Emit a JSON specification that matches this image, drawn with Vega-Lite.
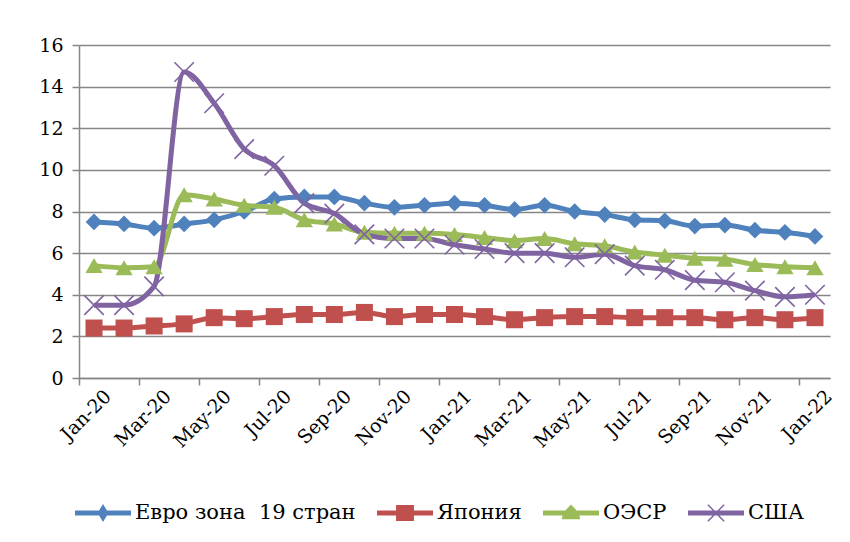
{
  "$schema": "https://vega.github.io/schema/vega-lite/v6.json",
  "width": 751,
  "height": 333,
  "autosize": {"type": "none"},
  "padding": {"left": 79, "top": 45, "right": 20, "bottom": 164},
  "background": "white",
  "config": {
    "view": {"stroke": null},
    "font": "DejaVu Serif",
    "axis": {
      "labelFont": "DejaVu Serif",
      "labelFontSize": 19,
      "labelColor": "black",
      "domainColor": "#868686",
      "domainWidth": 1.5,
      "tickColor": "#868686",
      "tickWidth": 1.5,
      "tickSize": 7,
      "gridColor": "#868686",
      "gridWidth": 1.5,
      "title": null
    },
    "legend": {"labelFont": "DejaVu Serif"}
  },
  "data": {
    "values": [
      {"m":"Jan-20","s":"Евро зона\u00a0 19 стран","v":7.5},{"m":"Feb-20","s":"Евро зона\u00a0 19 стран","v":7.4},{"m":"Mar-20","s":"Евро зона\u00a0 19 стран","v":7.2},{"m":"Apr-20","s":"Евро зона\u00a0 19 стран","v":7.4},{"m":"May-20","s":"Евро зона\u00a0 19 стран","v":7.6},{"m":"Jun-20","s":"Евро зона\u00a0 19 стран","v":8.0},{"m":"Jul-20","s":"Евро зона\u00a0 19 стран","v":8.6},{"m":"Aug-20","s":"Евро зона\u00a0 19 стран","v":8.7},{"m":"Sep-20","s":"Евро зона\u00a0 19 стран","v":8.7},{"m":"Oct-20","s":"Евро зона\u00a0 19 стран","v":8.4},{"m":"Nov-20","s":"Евро зона\u00a0 19 стран","v":8.2},{"m":"Dec-20","s":"Евро зона\u00a0 19 стран","v":8.3},{"m":"Jan-21","s":"Евро зона\u00a0 19 стран","v":8.4},{"m":"Feb-21","s":"Евро зона\u00a0 19 стран","v":8.3},{"m":"Mar-21","s":"Евро зона\u00a0 19 стран","v":8.1},{"m":"Apr-21","s":"Евро зона\u00a0 19 стран","v":8.3},{"m":"May-21","s":"Евро зона\u00a0 19 стран","v":8.0},{"m":"Jun-21","s":"Евро зона\u00a0 19 стран","v":7.85},{"m":"Jul-21","s":"Евро зона\u00a0 19 стран","v":7.6},{"m":"Aug-21","s":"Евро зона\u00a0 19 стран","v":7.55},{"m":"Sep-21","s":"Евро зона\u00a0 19 стран","v":7.3},{"m":"Oct-21","s":"Евро зона\u00a0 19 стран","v":7.35},{"m":"Nov-21","s":"Евро зона\u00a0 19 стран","v":7.1},{"m":"Dec-21","s":"Евро зона\u00a0 19 стран","v":7.0},{"m":"Jan-22","s":"Евро зона\u00a0 19 стран","v":6.8},
      {"m":"Jan-20","s":"Япония","v":2.4},{"m":"Feb-20","s":"Япония","v":2.4},{"m":"Mar-20","s":"Япония","v":2.5},{"m":"Apr-20","s":"Япония","v":2.6},{"m":"May-20","s":"Япония","v":2.9},{"m":"Jun-20","s":"Япония","v":2.85},{"m":"Jul-20","s":"Япония","v":2.95},{"m":"Aug-20","s":"Япония","v":3.05},{"m":"Sep-20","s":"Япония","v":3.05},{"m":"Oct-20","s":"Япония","v":3.15},{"m":"Nov-20","s":"Япония","v":2.95},{"m":"Dec-20","s":"Япония","v":3.05},{"m":"Jan-21","s":"Япония","v":3.05},{"m":"Feb-21","s":"Япония","v":2.95},{"m":"Mar-21","s":"Япония","v":2.8},{"m":"Apr-21","s":"Япония","v":2.9},{"m":"May-21","s":"Япония","v":2.95},{"m":"Jun-21","s":"Япония","v":2.95},{"m":"Jul-21","s":"Япония","v":2.9},{"m":"Aug-21","s":"Япония","v":2.9},{"m":"Sep-21","s":"Япония","v":2.9},{"m":"Oct-21","s":"Япония","v":2.8},{"m":"Nov-21","s":"Япония","v":2.9},{"m":"Dec-21","s":"Япония","v":2.8},{"m":"Jan-22","s":"Япония","v":2.9},
      {"m":"Jan-20","s":"ОЭСР","v":5.4},{"m":"Feb-20","s":"ОЭСР","v":5.3},{"m":"Mar-20","s":"ОЭСР","v":5.35},{"m":"Apr-20","s":"ОЭСР","v":8.8},{"m":"May-20","s":"ОЭСР","v":8.6},{"m":"Jun-20","s":"ОЭСР","v":8.3},{"m":"Jul-20","s":"ОЭСР","v":8.2},{"m":"Aug-20","s":"ОЭСР","v":7.6},{"m":"Sep-20","s":"ОЭСР","v":7.4},{"m":"Oct-20","s":"ОЭСР","v":7.0},{"m":"Nov-20","s":"ОЭСР","v":6.95},{"m":"Dec-20","s":"ОЭСР","v":6.95},{"m":"Jan-21","s":"ОЭСР","v":6.9},{"m":"Feb-21","s":"ОЭСР","v":6.75},{"m":"Mar-21","s":"ОЭСР","v":6.6},{"m":"Apr-21","s":"ОЭСР","v":6.7},{"m":"May-21","s":"ОЭСР","v":6.45},{"m":"Jun-21","s":"ОЭСР","v":6.35},{"m":"Jul-21","s":"ОЭСР","v":6.05},{"m":"Aug-21","s":"ОЭСР","v":5.9},{"m":"Sep-21","s":"ОЭСР","v":5.75},{"m":"Oct-21","s":"ОЭСР","v":5.7},{"m":"Nov-21","s":"ОЭСР","v":5.45},{"m":"Dec-21","s":"ОЭСР","v":5.35},{"m":"Jan-22","s":"ОЭСР","v":5.3},
      {"m":"Jan-20","s":"США","v":3.5},{"m":"Feb-20","s":"США","v":3.5},{"m":"Mar-20","s":"США","v":4.4},{"m":"Apr-20","s":"США","v":14.7},{"m":"May-20","s":"США","v":13.2},{"m":"Jun-20","s":"США","v":11.0},{"m":"Jul-20","s":"США","v":10.2},{"m":"Aug-20","s":"США","v":8.4},{"m":"Sep-20","s":"США","v":7.9},{"m":"Oct-20","s":"США","v":6.9},{"m":"Nov-20","s":"США","v":6.7},{"m":"Dec-20","s":"США","v":6.7},{"m":"Jan-21","s":"США","v":6.4},{"m":"Feb-21","s":"США","v":6.2},{"m":"Mar-21","s":"США","v":6.0},{"m":"Apr-21","s":"США","v":6.0},{"m":"May-21","s":"США","v":5.8},{"m":"Jun-21","s":"США","v":5.95},{"m":"Jul-21","s":"США","v":5.4},{"m":"Aug-21","s":"США","v":5.2},{"m":"Sep-21","s":"США","v":4.7},{"m":"Oct-21","s":"США","v":4.6},{"m":"Nov-21","s":"США","v":4.2},{"m":"Dec-21","s":"США","v":3.9},{"m":"Jan-22","s":"США","v":4.0}
    ]
  },
  "encoding": {
    "x": {
      "field": "m",
      "type": "ordinal",
      "sort": null,
      "scale": {"type": "band", "paddingInner": 0, "paddingOuter": 0},
      "axis": {
        "values": ["Jan-20","Mar-20","May-20","Jul-20","Sep-20","Nov-20","Jan-21","Mar-21","May-21","Jul-21","Sep-21","Nov-21","Jan-22"],
        "bandPosition": 0,
        "labelAngle": -45,
        "labelAlign": "right",
        "labelBaseline": "middle",
        "labelOffset": 14,
        "labelPadding": 8,
        "grid": false
      }
    },
    "y": {
      "field": "v",
      "type": "quantitative",
      "scale": {"domain": [0, 16], "nice": false},
      "axis": {"values": [0,2,4,6,8,10,12,14,16], "grid": true, "labelPadding": 9}
    },
    "color": {
      "field": "s",
      "type": "nominal",
      "scale": {
        "domain": ["Евро зона\u00a0 19 стран", "Япония", "ОЭСР", "США"],
        "range": ["#4F81BD", "#C0504D", "#9BBB59", "#8064A2"]
      },
      "legend": {
        "orient": "none",
        "legendX": -4,
        "legendY": 440,
        "direction": "horizontal",
        "columns": 4,
        "title": null,
        "padding": 0,
        "columnPadding": 21,
        "labelFont": "DejaVu Serif",
        "labelFontSize": 21,
        "labelLimit": 400,
        "labelColor": "black",
        "labelOffset": 4,
        "symbolSize": 3136,
        "symbolStrokeWidth": 0,
        "encode": {
          "symbols": {
            "update": {
              "shape": {"signal": "datum.value === 'Япония' ? 'M-1,-0.09H-0.32V-0.29H0.32V-0.09H1V0.09H0.32V0.29H-0.32V0.09H-1Z' : datum.value === 'ОЭСР' ? 'M-1,-0.09H-0.2L0,-0.3L0.2,-0.09H1V0.09H0.3L0.33,0.22H-0.33L-0.3,0.09H-1Z' : datum.value === 'США' ? 'M-1,-0.09H1V0.09H-1Z M-0.3,-0.3L-0.26,-0.3L0.3,0.27L0.3,0.3L0.26,0.3L-0.3,-0.27Z M0.3,-0.3L0.3,-0.27L-0.26,0.3L-0.3,0.3L-0.3,0.27L0.26,-0.3Z' : 'M-1,-0.09H-0.14L0,-0.32L0.14,-0.09H1V0.09H0.14L0,0.32L-0.14,0.09H-1Z'"},
              "fill": {"signal": "datum.value === 'Япония' ? '#C0504D' : datum.value === 'ОЭСР' ? '#9BBB59' : datum.value === 'США' ? '#8064A2' : '#4F81BD'"},
              "stroke": {"value": "transparent"},
              "size": {"value": 3136},
              "opacity": {"value": 1}
            }
          }
        }
      }
    }
  },
  "layer": [
    {
      "mark": {"type": "line", "strokeWidth": 5, "interpolate": "monotone"}
    },
    {
      "transform": [{"filter": "datum.s !== 'США'"}],
      "mark": {"type": "point", "filled": true, "opacity": 1, "strokeWidth": 0},
      "encoding": {
        "shape": {
          "field": "s",
          "type": "nominal",
          "scale": {
            "domain": ["Евро зона\u00a0 19 стран", "Япония", "ОЭСР"],
            "range": ["diamond", "square", "triangle-up"]
          },
          "legend": null
        },
        "size": {
          "field": "s",
          "type": "nominal",
          "scale": {
            "domain": ["Евро зона\u00a0 19 стран", "Япония", "ОЭСР"],
            "range": [280, 300, 300]
          },
          "legend": null
        }
      }
    },
    {
      "transform": [{"filter": "datum.s === 'США'"}],
      "mark": {"type": "point", "filled": false, "opacity": 1, "strokeWidth": 1.6, "shape": "M-1,-1L1,1M-1,1L1,-1", "size": 380}
    }
  ]
}
